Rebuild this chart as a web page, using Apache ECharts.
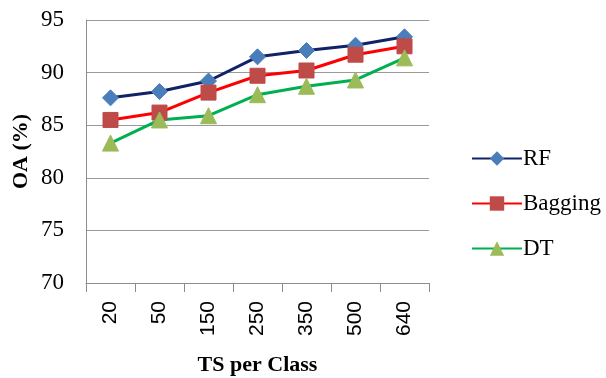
<!DOCTYPE html>
<html>
<head>
<meta charset="utf-8">
<script src="https://cdn.jsdelivr.net/npm/echarts@6/dist/echarts.min.js"></script>
<style>
  html, body { margin: 0; padding: 0; background: #fff; }
  #chart { width: 606px; height: 378px; }
</style>
</head>
<body>
<div id="chart"></div>
<script>
// Training samples per class
const categories = ['20', '50', '150', '250', '350', '500', '640'];
// Overall accuracy (%) per classifier
const rfValues = [87.6, 88.2, 89.2, 91.5, 92.1, 92.6, 93.4];
const baggingValues = [85.5, 86.2, 88.1, 89.7, 90.2, 91.7, 92.5];
const dtValues = [83.3, 85.5, 85.9, 87.9, 88.7, 89.3, 91.4];

const serif = '"Liberation Serif", "Times New Roman", serif';
const sans = '"Liberation Sans", Arial, sans-serif';

function makeSeries(name, data, lineColor, markColor, symbol, size) {
  return {
    name: name,
    type: 'line',
    data: data,
    symbol: symbol,
    symbolSize: size,
    lineStyle: { color: lineColor, width: 3 },
    itemStyle: { color: markColor, borderColor: markColor },
    emphasis: { disabled: true },
    animation: false
  };
}

const chart = echarts.init(document.getElementById('chart'));
chart.setOption({
  backgroundColor: '#fff',
  animation: false,
  grid: { left: 86, right: 177, top: 20, bottom: 95, containLabel: false, outerBoundsMode: 'none' },
  legend: {
    orient: 'vertical',
    left: 466,
    top: 142,
    itemWidth: 50,
    itemHeight: 18,
    itemGap: 22,
    textStyle: { fontFamily: serif, fontSize: 23, color: '#000', padding: [0, 0, 0, -4] },
    data: ['RF', 'Bagging', 'DT']
  },
  xAxis: {
    type: 'category',
    data: categories,
    boundaryGap: true,
    name: 'TS per Class',
    nameLocation: 'middle',
    nameGap: 71,
    nameMoveOverlap: false,
    nameTextStyle: { fontFamily: serif, fontSize: 22, fontWeight: 'bold', color: '#000' },
    axisLine: { lineStyle: { color: '#8c8c8c', width: 1 } },
    axisTick: { show: true, length: 9, alignWithLabel: false, lineStyle: { color: '#8c8c8c' } },
    axisLabel: { rotate: 90, margin: 18, fontFamily: sans, fontSize: 21, color: '#000' },
    splitLine: { show: false }
  },
  yAxis: {
    type: 'value',
    min: 70,
    max: 95,
    interval: 5,
    name: 'OA (%)',
    nameLocation: 'middle',
    nameGap: 54,
    nameMoveOverlap: false,
    nameRotate: 90,
    nameTextStyle: { fontFamily: serif, fontSize: 22, fontWeight: 'bold', color: '#000' },
    axisLine: { show: true, lineStyle: { color: '#8c8c8c', width: 1 } },
    axisTick: { show: false },
    axisLabel: { margin: 22, fontFamily: serif, fontSize: 23, color: '#000' },
    splitLine: { show: true, lineStyle: { color: '#9a9a9a', width: 1 } }
  },
  series: [
    makeSeries('RF', rfValues, '#0f2366', '#4a7ebb', 'diamond', 16),
    makeSeries('Bagging', baggingValues, '#ff0000', '#be4b48', 'rect', 15),
    makeSeries('DT', dtValues, '#00b050', '#9bbb59', 'triangle', 16)
  ]
});
</script>
</body>
</html>
